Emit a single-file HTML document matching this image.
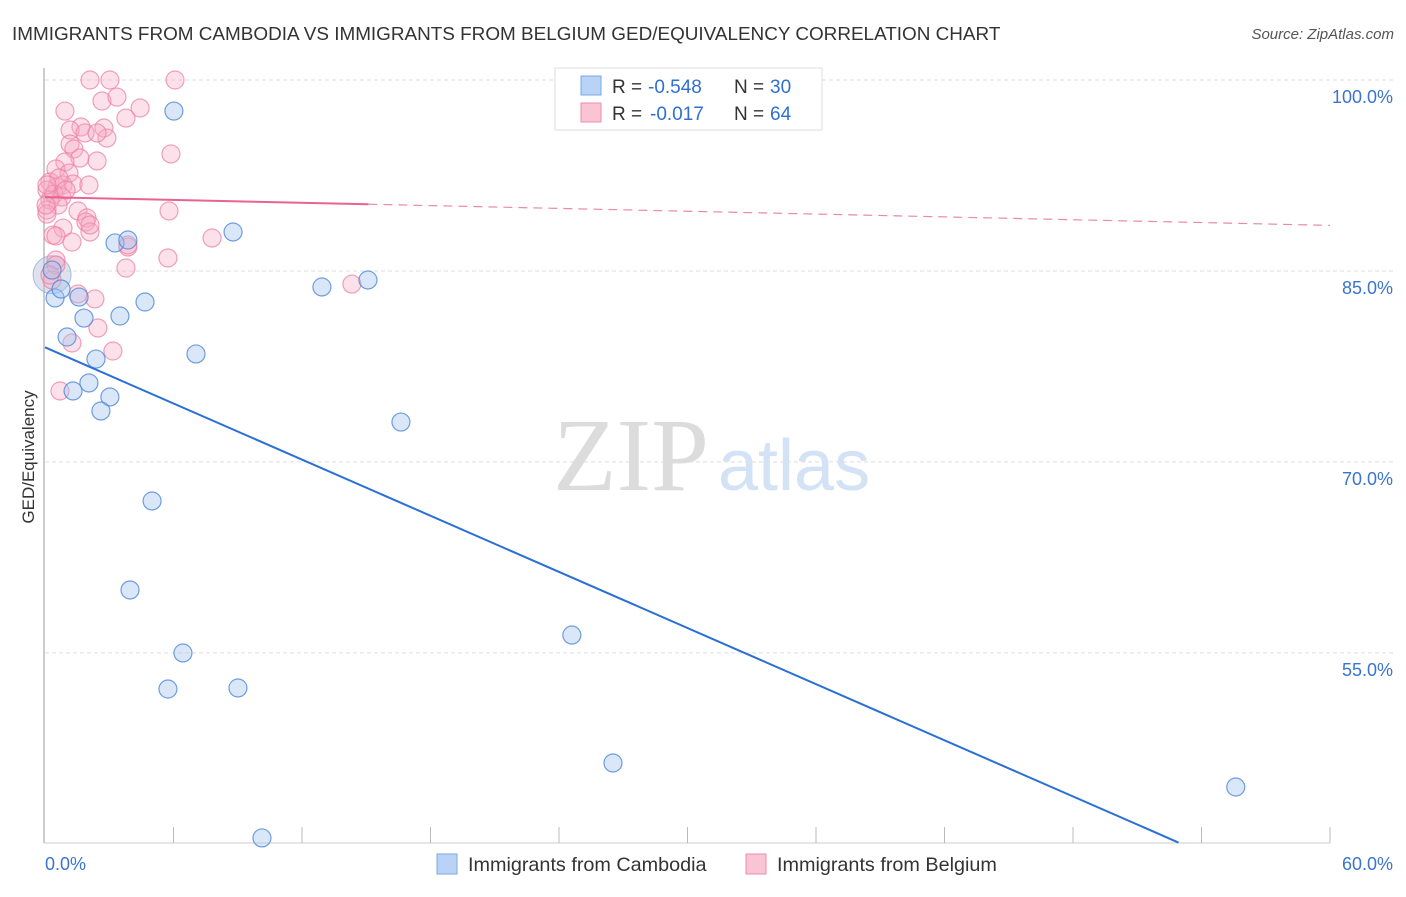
<!DOCTYPE html>
<html><head><meta charset="utf-8"><style>
body{margin:0;background:#fff;font-family:"Liberation Sans",sans-serif;}
svg text{font-family:"Liberation Sans",sans-serif;}
</style></head><body>
<svg id="chart" width="1406" height="892" viewBox="0 0 1406 892">
<text x="12" y="40" font-size="18.9" fill="#333">IMMIGRANTS FROM CAMBODIA VS IMMIGRANTS FROM BELGIUM GED/EQUIVALENCY CORRELATION CHART</text>
<text x="1394" y="39" font-size="15" fill="#555" font-style="italic" text-anchor="end">Source: ZipAtlas.com</text>
<g id="grid"></g>
<text x="553" y="490" font-size="104" fill="#dcdcdc" style="font-family:'Liberation Serif',serif">ZIP</text>
<text x="718" y="490" font-size="72" fill="#d3e2f4">atlas</text>
<g id="axes"></g>
<g id="marks"></g>
<text transform="translate(34,457) rotate(-90)" font-size="17" fill="#333" text-anchor="middle">GED/Equivalency</text>
<g>
<rect x="555" y="68" width="267" height="62" fill="#fff" stroke="#ddd"/>
<rect x="581" y="76" width="20" height="19" fill="#b8d3f5" stroke="#7aa7e3"/>
<rect x="581" y="103" width="20" height="19" fill="#f9c4d4" stroke="#ec8eab"/>
<g font-size="19" fill="#333">
<text x="612" y="93">R =</text><text x="648" y="93" fill="#2f6fd0">-0.548</text><text x="734" y="93">N =</text><text x="770" y="93" fill="#2f6fd0">30</text></g>
<g font-size="19" fill="#333">
<text x="612" y="120">R =</text><text x="650" y="120" fill="#2f6fd0">-0.017</text><text x="734" y="120">N =</text><text x="770" y="120" fill="#2f6fd0">64</text></g>
</g>
<g>
<rect x="437" y="854" width="20" height="20" fill="#b8d3f5" stroke="#7aa7e3"/>
<text x="468" y="871" font-size="19.8" fill="#333">Immigrants from Cambodia</text>
<rect x="746" y="854" width="20" height="20" fill="#f9c4d4" stroke="#ec8eab"/>
<text x="777" y="871" font-size="19.8" fill="#333">Immigrants from Belgium</text>
</g>
</svg>
<script>
const yTicks=[100,85,70,55];
const yTickLabels=["100.0%","85.0%","70.0%","55.0%"];
const xTickLabels=["0.0%","60.0%"];
const cambodiaX=[6.02,8.78,3.27,3.87,0.33,0.47,0.75,1.59,4.67,3.50,1.82,1.03,12.93,15.08,7.05,2.38,2.05,1.31,3.03,2.61,16.62,5.00,3.97,24.60,6.44,5.74,9.01,26.52,55.60,10.13];
const cambodiaY=[97.56,88.06,87.20,87.43,85.07,82.88,83.58,82.95,82.56,81.46,81.30,79.81,83.74,84.29,78.48,78.08,76.20,75.57,75.10,74.00,73.13,66.93,59.94,56.40,54.99,52.16,52.24,46.35,44.46,40.46];
const belgiumX=[2.10,3.03,6.07,0.93,2.66,3.36,4.44,3.78,1.68,1.17,1.87,2.75,2.89,1.17,1.35,2.43,5.88,1.63,2.43,0.93,0.51,1.12,0.23,0.56,0.84,1.31,2.05,0.09,0.42,0.79,0.23,0.61,0.09,1.54,5.79,1.96,1.91,0.84,2.10,0.37,0.51,1.26,7.80,3.87,3.78,5.74,0.51,0.51,0.33,1.54,2.33,2.47,1.26,3.17,14.33,0.70,0.09,2.10,3.87,0.05,0.65,0.98,0.23,0.09];
const belgiumY=[100,100,100,97.56,98.35,98.66,97.80,97.01,96.31,96.07,95.84,96.23,95.44,94.97,94.58,95.84,94.19,93.87,93.64,93.56,93.01,92.69,91.99,91.59,91.75,91.83,91.75,91.36,91.04,90.81,90.57,90.18,89.79,89.71,89.71,89.16,88.85,88.37,88.06,87.82,87.75,87.27,87.59,86.88,85.23,86.02,85.86,85.47,84.29,83.19,82.80,80.52,79.34,78.71,83.97,75.57,89.47,88.61,87.04,90.18,92.30,91.36,84.68,91.75];
const cambodiaTrend=[79.0,-0.735];
const belgiumTrend=[90.8,-0.037];
const X0=45,X1=1330,Y0=80;
const xs=v=>X0+(v/60)*(X1-X0);
const ys=v=>Y0+(100-v)*12.73;
const NS="http://www.w3.org/2000/svg";
function mk(t,a,p){const e=document.createElementNS(NS,t);for(const k in a)e.setAttribute(k,a[k]);p.appendChild(e);return e;}
const grid=document.getElementById('grid'),axes=document.getElementById('axes'),marks=document.getElementById('marks');
yTicks.forEach((t,i)=>{
 const l=mk('line',{x1:X0,x2:1393,y1:ys(t),y2:ys(t),stroke:'#ddd','stroke-dasharray':'4,3'},grid);
 
 
 const tx=mk('text',{x:1393,y:ys(t)+23,'font-size':18,fill:'#3a74d0','text-anchor':'end'},axes);
 tx.textContent=yTickLabels[i];
 
 
});
const ax=mk('line',{x1:44,x2:44,y1:68,y2:843,stroke:'#999'},axes);


const bx=mk('line',{x1:44,x2:1330,y1:843,y2:843,stroke:'#ccc'},axes);


for(let i=1;i<=10;i++){const x=xs(i*6);const t=mk('line',{x1:x,x2:x,y1:827,y2:843,stroke:'#bbb'},axes);
 
 }
[[0,45,'start'],[60,1393,'end']].forEach((d,i)=>{const t=mk('text',{x:d[1],y:870,'font-size':18,fill:'#3a74d0','text-anchor':d[2]},axes);t.textContent=xTickLabels[i];
 
 });
const big=mk('circle',{cx:xs(0.33),cy:ys(84.7),r:19,fill:'rgba(180,190,215,0.45)',stroke:'rgba(120,150,220,0.6)'},marks);


belgiumX.forEach((v,i)=>{const c=mk('circle',{cx:xs(v),cy:ys(belgiumY[i]),r:9,fill:'rgba(246,170,195,0.35)',stroke:'rgba(236,130,165,0.75)','stroke-width':1.2},marks);
 
 });
cambodiaX.forEach((v,i)=>{const c=mk('circle',{cx:xs(v),cy:ys(cambodiaY[i]),r:9,fill:'rgba(160,195,240,0.4)',stroke:'rgba(80,135,215,0.8)','stroke-width':1.2},marks);
 
 });
const xEnd=(40.1-cambodiaTrend[0])/cambodiaTrend[1];
const bl=mk('line',{x1:xs(0),y1:ys(cambodiaTrend[0]),x2:xs(xEnd),y2:ys(cambodiaTrend[0]+cambodiaTrend[1]*xEnd),stroke:'#2a6fd6','stroke-width':2},marks);


const pf=v=>belgiumTrend[0]+belgiumTrend[1]*v;
const pl=mk('line',{x1:xs(0),y1:ys(pf(0)),x2:xs(15.1),y2:ys(pf(15.1)),stroke:'#e8648e','stroke-width':2},marks);


const pd=mk('line',{x1:xs(15.1),y1:ys(pf(15.1)),x2:xs(60),y2:ys(pf(60)),stroke:'#e88aa8','stroke-width':1.2,'stroke-dasharray':'9,6'},marks);


</script>
</body></html>
